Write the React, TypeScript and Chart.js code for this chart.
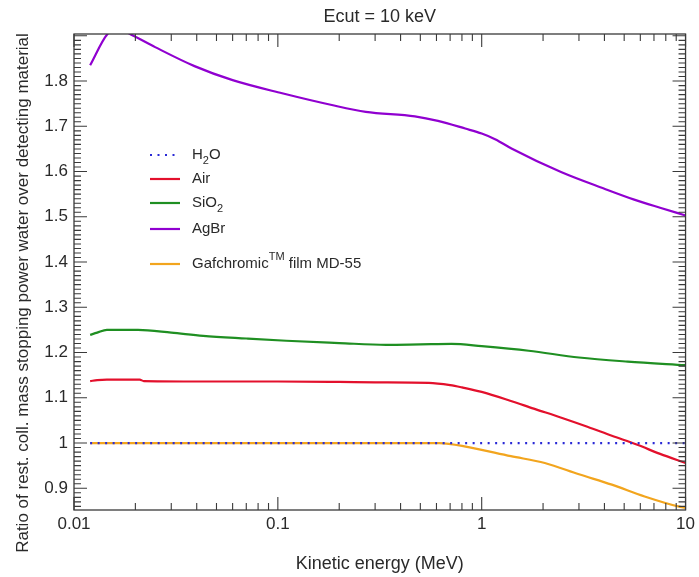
import React, { useEffect, useRef } from "react";
import { Chart, registerables } from "chart.js";

Chart.register(...registerables);

const titleText = "Ecut = 10 keV";
const xTitle = "Kinetic energy (MeV)";
const yTitle = "Ratio of rest. coll. mass stopping power water over detecting material";

const xTickValues = [0.01, 0.1, 1, 10];
const xTickLabels = ["0.01", "0.1", "1", "10"];
const yTickValues = [0.9, 1.0, 1.1, 1.2, 1.3, 1.4, 1.5, 1.6, 1.7, 1.8];
const yTickLabels = ["0.9", "1", "1.1", "1.2", "1.3", "1.4", "1.5", "1.6", "1.7", "1.8"];

const h2oE = [0.012, 0.1, 1, 10];
const h2oR = [1.0, 1.0, 1.0, 1.0];

const airE = [0.012, 0.013, 0.0145, 0.021, 0.022, 0.05, 0.1, 0.2, 0.3, 0.55, 0.7, 0.8, 1.0, 1.39, 1.8, 2.46, 3.3, 4.35, 5.8, 7.5, 10];
const airR = [1.137, 1.139, 1.14, 1.14, 1.137, 1.136, 1.136, 1.135, 1.134, 1.133, 1.128, 1.123, 1.113, 1.093, 1.076, 1.056, 1.036, 1.016, 0.996, 0.976, 0.956];

const sio2E = [0.012, 0.013, 0.0145, 0.0206, 0.03, 0.043, 0.07, 0.11, 0.2, 0.34, 0.5, 0.71, 1.0, 1.7, 3.0, 5.2, 10];
const sio2R = [1.239, 1.244, 1.25, 1.25, 1.244, 1.237, 1.231, 1.226, 1.221, 1.217, 1.218, 1.219, 1.214, 1.204, 1.189, 1.18, 1.172];

const agbrE = [0.012, 0.0146, 0.0165, 0.019, 0.025, 0.039, 0.06, 0.105, 0.184, 0.27, 0.47, 0.61, 0.83, 1.0, 1.17, 1.4, 2.45, 4.0, 5.6, 7.5, 10];
const agbrR = [1.835, 1.904, 1.915, 1.903, 1.875, 1.833, 1.802, 1.773, 1.747, 1.732, 1.722, 1.712, 1.695, 1.684, 1.671, 1.651, 1.599, 1.562, 1.538, 1.52, 1.503];

const gafE = [0.012, 0.3, 0.62, 0.86, 1.39, 2.04, 3.0, 4.35, 6.3, 9.2, 10];
const gafR = [1.0, 1.0, 1.0, 0.991, 0.971, 0.956, 0.931, 0.908, 0.882, 0.86, 0.857];

const FONT = "'Liberation Sans', Arial, Helvetica, sans-serif";
const TEXT = "#2a2a2a";
const AXIS = "#3a3a3a";

const colors = {
  h2o: "#2a2ad6",
  air: "#e3102c",
  sio2: "#1f8f22",
  agbr: "#9000d0",
  gaf: "#f2a51e",
};

const pts = (xs: number[], ys: number[]) => xs.map((x, i) => ({ x, y: ys[i] }));

const framePlugin = {
  id: "frameTicks",
  afterDraw(chart: any) {
    const { ctx, chartArea } = chart;
    const xs = chart.scales.x;
    const ys = chart.scales.y;
    const { left, right, top, bottom } = chartArea;
    ctx.save();
    ctx.strokeStyle = AXIS;
    ctx.lineWidth = 1.3;
    ctx.strokeRect(left, top, right - left, bottom - top);
    const major = 13;
    const minor = 7;
    ctx.lineWidth = 1.1;
    ctx.beginPath();
    for (let d = -2; d <= 1; d++) {
      for (let m = 1; m <= 9; m++) {
        const v = m * Math.pow(10, d);
        if (v > 10.0001) continue;
        const px = xs.getPixelForValue(v);
        if (px < left - 0.5 || px > right + 0.5) continue;
        const len = m === 1 ? major : minor;
        ctx.moveTo(px, bottom);
        ctx.lineTo(px, bottom - len);
        ctx.moveTo(px, top);
        ctx.lineTo(px, top + len);
      }
    }
    for (let k = 86; k <= 190; k++) {
      const v = k / 100;
      const py = ys.getPixelForValue(v);
      if (py < top - 0.5 || py > bottom + 0.5) continue;
      const len = k % 10 === 0 ? major : minor;
      ctx.moveTo(left, py);
      ctx.lineTo(left + len, py);
      ctx.moveTo(right, py);
      ctx.lineTo(right - len, py);
    }
    ctx.stroke();

    // y-axis title
    ctx.save();
    ctx.translate(23, (top + bottom) / 2 + 21);
    ctx.rotate(-Math.PI / 2);
    ctx.fillStyle = TEXT;
    ctx.font = `17px ${FONT}`;
    ctx.textAlign = "center";
    ctx.textBaseline = "middle";
    ctx.fillText(yTitle, 0, 0);
    ctx.restore();

    // legend
    const lx1 = left + 76;
    const lx2 = left + 106;
    const tx = left + 118;
    const rows = [155, 179, 203, 229, 264];
    const items = [
      { c: colors.h2o, dash: [2, 5.5], parts: [["H", 0], ["2", 1], ["O", 0]] },
      { c: colors.air, dash: [], parts: [["Air", 0]] },
      { c: colors.sio2, dash: [], parts: [["SiO", 0], ["2", 1]] },
      { c: colors.agbr, dash: [], parts: [["AgBr", 0]] },
      { c: colors.gaf, dash: [], parts: [["Gafchromic", 0], ["TM", 2], [" film MD-55", 0]] },
    ];
    items.forEach((it, i) => {
      const y = rows[i];
      ctx.beginPath();
      ctx.setLineDash(it.dash);
      ctx.strokeStyle = it.c;
      ctx.lineWidth = 2.2;
      ctx.moveTo(lx1, y);
      ctx.lineTo(lx2, y);
      ctx.stroke();
      ctx.setLineDash([]);
      let x = tx;
      ctx.fillStyle = TEXT;
      ctx.textBaseline = "middle";
      ctx.textAlign = "left";
      (it.parts as any[]).forEach(([s, kind]) => {
        if (kind === 0) {
          ctx.font = `15px ${FONT}`;
          ctx.fillText(s, x, y);
        } else if (kind === 1) {
          ctx.font = `11px ${FONT}`;
          ctx.fillText(s, x, y + 6);
        } else {
          ctx.font = `11px ${FONT}`;
          ctx.fillText(s, x, y - 7);
        }
        x += ctx.measureText(s).width;
      });
    });
    ctx.restore();
  },
};

export default function App() {
  const ref = useRef<HTMLCanvasElement | null>(null);
  useEffect(() => {
    if (!ref.current) return;
    const common = { pointRadius: 0, borderWidth: 2.2, fill: false, cubicInterpolationMode: "monotone" as const };
    const chart = new Chart(ref.current, {
      type: "line",
      data: {
        datasets: [
          { label: "H2O", data: pts(h2oE, h2oR), borderColor: colors.h2o, ...common, borderDash: [2, 5.5] },
          { label: "Air", data: pts(airE, airR), borderColor: colors.air, ...common },
          { label: "SiO2", data: pts(sio2E, sio2R), borderColor: colors.sio2, ...common },
          { label: "AgBr", data: pts(agbrE, agbrR), borderColor: colors.agbr, ...common },
          { label: "Gafchromic film MD-55", data: pts(gafE, gafR), borderColor: colors.gaf, ...common },
        ],
      },
      options: {
        animation: false,
        responsive: false,
        maintainAspectRatio: false,
        layout: { padding: { left: 0, right: 12, top: 0, bottom: 0 } },
        plugins: {
          legend: { display: false },
          tooltip: { enabled: false },
          title: {
            display: true,
            fullSize: false,
            text: titleText,
            color: TEXT,
            font: { family: FONT, size: 18, weight: "normal", lineHeight: 1.2 },
            padding: { top: 6, bottom: 6.4 },
          },
        },
        scales: {
          x: {
            type: "logarithmic",
            min: 0.01,
            max: 10,
            afterBuildTicks: (scale: any) => {
              scale.ticks = xTickValues.map((v) => ({ value: v }));
            },
            afterFit: (scale: any) => {
              scale.height = 67;
            },
            grid: { display: false, drawTicks: false },
            border: { display: false },
            ticks: {
              color: TEXT,
              padding: 4,
              maxRotation: 0,
              autoSkip: false,
              font: { family: FONT, size: 17 },
              callback: (v: any) => {
                const i = xTickValues.findIndex((t) => Math.abs(t - Number(v)) < 1e-9);
                return i >= 0 ? xTickLabels[i] : "";
              },
            },
            title: {
              display: true,
              text: xTitle,
              color: TEXT,
              font: { family: FONT, size: 18, lineHeight: 1.2 },
              padding: { top: 0, bottom: 2 },
            },
          },
          y: {
            type: "linear",
            min: 0.852,
            max: 1.904,
            afterBuildTicks: (scale: any) => {
              scale.ticks = yTickValues.map((v) => ({ value: v }));
            },
            afterFit: (scale: any) => {
              scale.width = 74;
            },
            grid: { display: false, drawTicks: false },
            border: { display: false },
            ticks: {
              color: TEXT,
              padding: 6,
              autoSkip: false,
              font: { family: FONT, size: 17 },
              callback: (v: any) => {
                const i = yTickValues.findIndex((t) => Math.abs(t - Number(v)) < 1e-9);
                return i >= 0 ? yTickLabels[i] : "";
              },
            },
            title: { display: false },
          },
        },
      },
      plugins: [framePlugin],
    } as any);
    return () => chart.destroy();
  }, []);
  return (
    <div style={{ position: "fixed", left: 0, top: 0, width: 699, height: 577, background: "#fff" }}>
      <canvas ref={ref} width={699} height={577} style={{ width: 699, height: 577, display: "block" }} />
    </div>
  );
}
